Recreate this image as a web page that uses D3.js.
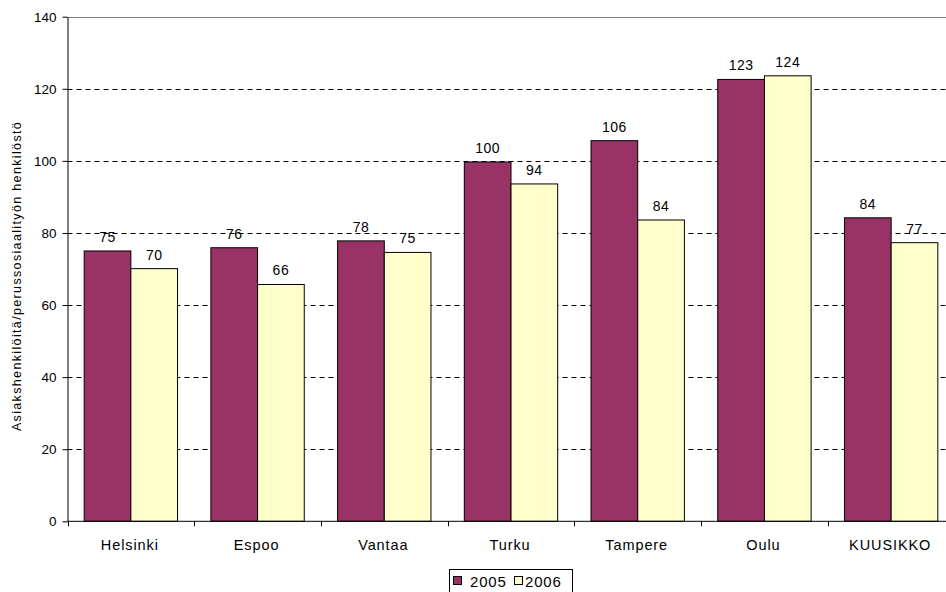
<!DOCTYPE html>
<html><head><meta charset="utf-8">
<script src="https://cdn.jsdelivr.net/npm/d3@7"></script>
<style>body{margin:0;background:#fff}svg{display:block;font-family:"Liberation Sans",Arial,sans-serif}</style>
</head><body><svg id="c" width="946" height="592"></svg>
<script>
const categories = ["Helsinki","Espoo","Vantaa","Turku","Tampere","Oulu","KUUSIKKO"];
const series = ["2005","2006"];
const values2005 = [75.0, 75.9, 77.8, 99.7, 105.6, 122.6, 84.2];
const values2006 = [70.1, 65.7, 74.6, 93.6, 83.6, 123.6, 77.3];
const yTicks = [0,20,40,60,80,100,120,140];
const colors = ["#993366","#FFFFCC"];
const yTitle = "Asiakshenkilöitä/perussosiaalityön henkilöstö";

const svg = d3.select("#c");
const L = 67.5, R = 954.5, T = 16.7, B = 521.3;
const x0 = d3.scaleBand().domain(categories).range([L,R]).padding(0);
const bw = x0.bandwidth();
const x1 = d3.scaleBand().domain(series).range([bw*0.1316, bw*(1-0.1316)]).padding(0);
const y = d3.scaleLinear().domain([0,140]).range([B,T]);

// gridlines
const g = svg.append("g");
yTicks.filter(t=>t>0 && t<140).forEach(t=>{
  g.append("line").attr("x1",L).attr("x2",R).attr("y1",Math.round(y(t))+0.5).attr("y2",Math.round(y(t))+0.5)
   .attr("stroke","#000").attr("stroke-dasharray","5,4").attr("stroke-width",1);
});
g.append("line").attr("x1",L).attr("x2",R).attr("y1",Math.round(y(140))+0.5).attr("y2",Math.round(y(140))+0.5)
  .attr("stroke","#808080").attr("stroke-width",1);

// bars
const data = [values2005, values2006];
series.forEach((s,si)=>{
  const gs = svg.append("g");
  gs.selectAll("rect").data(categories).enter().append("rect")
    .attr("x",c=>x0(c)+x1(s))
    .attr("y",(c,i)=>y(data[si][i]))
    .attr("width",x1.bandwidth())
    .attr("height",(c,i)=>B-y(data[si][i]))
    .attr("fill",colors[si]).attr("stroke","#000").attr("stroke-width",1);
  gs.selectAll("text").data(categories).enter().append("text")
    .attr("x",c=>x0(c)+x1(s)+x1.bandwidth()/2)
    .attr("y",(c,i)=>y(data[si][i])-9)
    .attr("text-anchor","middle").attr("font-size",14).attr("letter-spacing",0.5).attr("fill","#000")
    .text((c,i)=>d3.format(".0f")(data[si][i]));
});

// y axis
const ya = svg.append("g").attr("transform",`translate(${L},0)`)
  .call(d3.axisLeft(y).tickValues(yTicks).tickSize(5).tickPadding(6).tickSizeOuter(0));
ya.selectAll("text").attr("font-size",13.5).attr("fill","#000").attr("font-family","Liberation Sans, Arial, sans-serif");
ya.selectAll("line,path").attr("stroke","#000");

// x axis
const xa = svg.append("g").attr("transform",`translate(0,${B})`);
xa.append("line").attr("x1",L).attr("x2",R).attr("y1",0).attr("y2",0).attr("stroke","#000");
categories.forEach(c=>{
  xa.append("line").attr("x1",Math.round(x0(c))+0.5).attr("x2",Math.round(x0(c))+0.5).attr("y1",0).attr("y2",5).attr("stroke","#000");
  xa.append("text").attr("x",x0(c)+bw/2-1).attr("y",29).attr("text-anchor","middle")
    .attr("font-size",14.5).attr("letter-spacing",0.9).attr("fill","#000").text(c);
});

// y title
svg.append("text").attr("transform",`translate(21,${(T+B)/2+7}) rotate(-90)`)
  .attr("text-anchor","middle").attr("font-size",12.5).attr("letter-spacing",1.35).attr("fill","#000").text(yTitle);

// legend
const lg = svg.append("g");
lg.append("rect").attr("x",449.5).attr("y",569.5).attr("width",123).attr("height",24).attr("fill","#fff").attr("stroke","#000");
const lx = [453, 514];
series.forEach((s,i)=>{
  lg.append("rect").attr("x",lx[i]+0.5).attr("y",576.5).attr("width",8).attr("height",8).attr("fill",colors[i]).attr("stroke","#000");
  lg.append("text").attr("x",lx[i]+(i===0?17:11)).attr("y",587).attr("font-size",15).attr("letter-spacing",0.8).attr("fill","#000").text(s);
});
</script></body></html>
